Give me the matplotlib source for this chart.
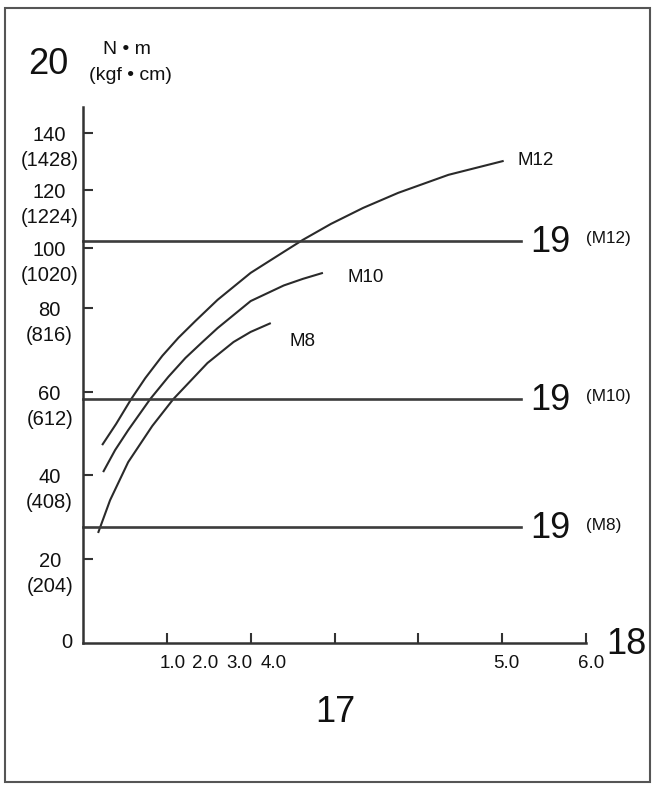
import numpy as np
import matplotlib
matplotlib.use("Agg")
import matplotlib.pyplot as plt
from matplotlib.patches import Rectangle

plt.rcParams['font.family'] = ['Liberation Sans', 'DejaVu Sans']

# ---------------- data ----------------
curve_names = ['M12', 'M10', 'M8']
m12_x = [0.228, 0.395, 0.575, 0.743, 0.946, 1.138, 1.341, 1.605, 2.000, 2.395,
         2.623, 2.958, 3.341, 3.760, 4.359, 5.018]
m12_y = [47.2, 52.3, 58.3, 63.3, 68.6, 72.9, 76.9, 82.7, 91.7, 98.7,
         102.8, 108.3, 113.8, 119.0, 125.3, 130.2]
m10_x = [0.240, 0.383, 0.539, 0.802, 1.018, 1.222, 1.425, 1.605, 2.000, 2.395, 2.623, 2.862]
m10_y = [40.7, 46.0, 50.8, 58.3, 63.6, 68.1, 71.9, 75.2, 82.3, 87.5, 89.7, 91.7]
m8_x = [0.180, 0.323, 0.539, 0.826, 1.078, 1.485, 1.796, 2.000, 2.240]
m8_y = [26.2, 34.0, 43.1, 51.8, 58.3, 66.9, 71.9, 74.3, 76.4]

standard_names = ['(M12)', '(M10)', '(M8)']
standard_levels = [102.5, 58.3, 27.5]
standard_end_x = 5.23

y_ticks_nm = [20, 40, 60, 80, 100, 120, 140]
y_ticks_kgf = ['(204)', '(408)', '(612)', '(816)', '(1020)', '(1224)', '(1428)']
x_ticks = [1, 2, 3, 4, 5, 6]
x_tick_labels = ['1.0', '2.0', '3.0', '4.0', '5.0', '6.0']
x_label_pos = [1.07, 1.46, 1.86, 2.28, 5.05, 6.06]

# ---------------- layout ----------------
W, H = 654, 787
fig = plt.figure(figsize=(W / 100, H / 100), dpi=100)
fig.patch.set_facecolor('white')

def fx(px):
    return px / W

def fy(py):
    return 1 - py / H

ax = fig.add_axes([fx(83), fy(643), fx(586) - fx(83), fy(107) - fy(643)])

# the drawn y axis is not uniform: piecewise scale
knot_vals = [0, 20, 40, 60, 80, 100, 120, 140, 160]
knot_pos = [0, 84, 168, 251, 335, 395, 453, 510, 567]

def fwd(v):
    return np.interp(v, knot_vals, knot_pos)

def inv(p):
    return np.interp(p, knot_pos, knot_vals)

ax.set_yscale('function', functions=(fwd, inv))
ax.set_xlim(0, 6)
ax.set_ylim(0, 149.1)

line_col = '#2a2a2a'
for xs, ys in [(m12_x, m12_y), (m10_x, m10_y), (m8_x, m8_y)]:
    ax.plot(xs, ys, color=line_col, lw=1.5, solid_capstyle='butt',
            solid_joinstyle='round', clip_on=False)

for lvl in standard_levels:
    ax.plot([0, standard_end_x], [lvl, lvl], color='#3c3c3c', lw=1.9, clip_on=False)

for lvl, nm in zip(standard_levels, standard_names):
    ax.annotate('19', xy=(standard_end_x, lvl), xytext=(6.5, -1), textcoords='offset points',
                ha='left', va='center', fontsize=26, color='#111')
    ax.annotate(nm, xy=(standard_end_x, lvl), xytext=(46.5, 1.5), textcoords='offset points',
                ha='left', va='center', fontsize=12.3, color='#111')

# curve labels
ax.text(5.18, 130.2, curve_names[0], ha='left', va='center', fontsize=13.5, color='#111')
ax.text(3.15, 90.3, curve_names[1], ha='left', va='center', fontsize=13.5, color='#111')
ax.text(2.46, 72.1, curve_names[2], ha='left', va='center', fontsize=13.5, color='#111')

# spines and ticks
for s in ['top', 'right']:
    ax.spines[s].set_visible(False)
for s in ['left', 'bottom']:
    ax.spines[s].set_linewidth(1.8)
    ax.spines[s].set_color('#333')
ax.set_yticks(y_ticks_nm)
ax.set_xticks(x_ticks)
ax.set_yticklabels([])
ax.set_xticklabels([])
ax.tick_params(direction='in', length=7.2, width=1.5, color='#333')

ytr = ax.get_yaxis_transform()
for v, kg in zip(y_ticks_nm, y_ticks_kgf):
    ax.annotate(str(v), xy=(0, v), xycoords=ytr, xytext=(-24, -2), textcoords='offset points',
                ha='center', va='center', fontsize=14.5, color='#111')
    ax.annotate(kg, xy=(0, v), xycoords=ytr, xytext=(-24, -19.5), textcoords='offset points',
                ha='center', va='center', fontsize=14.5, color='#111')
ax.annotate('0', xy=(0, 0), xycoords=ytr, xytext=(-11.5, 0), textcoords='offset points',
            ha='center', va='center', fontsize=14.5, color='#111')

xtr = ax.get_xaxis_transform()
for p, lbl in zip(x_label_pos, x_tick_labels):
    ax.annotate(lbl, xy=(p, 0), xycoords=xtr, xytext=(0, -14.5), textcoords='offset points',
                ha='center', va='center', fontsize=13.5, color='#111')

# captions / callout numbers
fig.text(fx(48), fy(65), '20', ha='center', va='center', fontsize=26, color='#111')
fig.text(fx(127), fy(49), 'N • m', ha='center', va='center', fontsize=14, color='#111')
fig.text(fx(130), fy(76), '(kgf • cm)', ha='center', va='center', fontsize=14, color='#111')
fig.text(fx(626), fy(645), '18', ha='center', va='center', fontsize=26, color='#111')
fig.text(fx(335), fy(713), '17', ha='center', va='center', fontsize=26, color='#111')

# outer frame
fig.patches.append(Rectangle((fx(5), fy(782)), fx(650) - fx(5), fy(8) - fy(782),
                             transform=fig.transFigure, fill=False, ec='#555', lw=1.5))

fig.savefig('out.png', dpi=100)
